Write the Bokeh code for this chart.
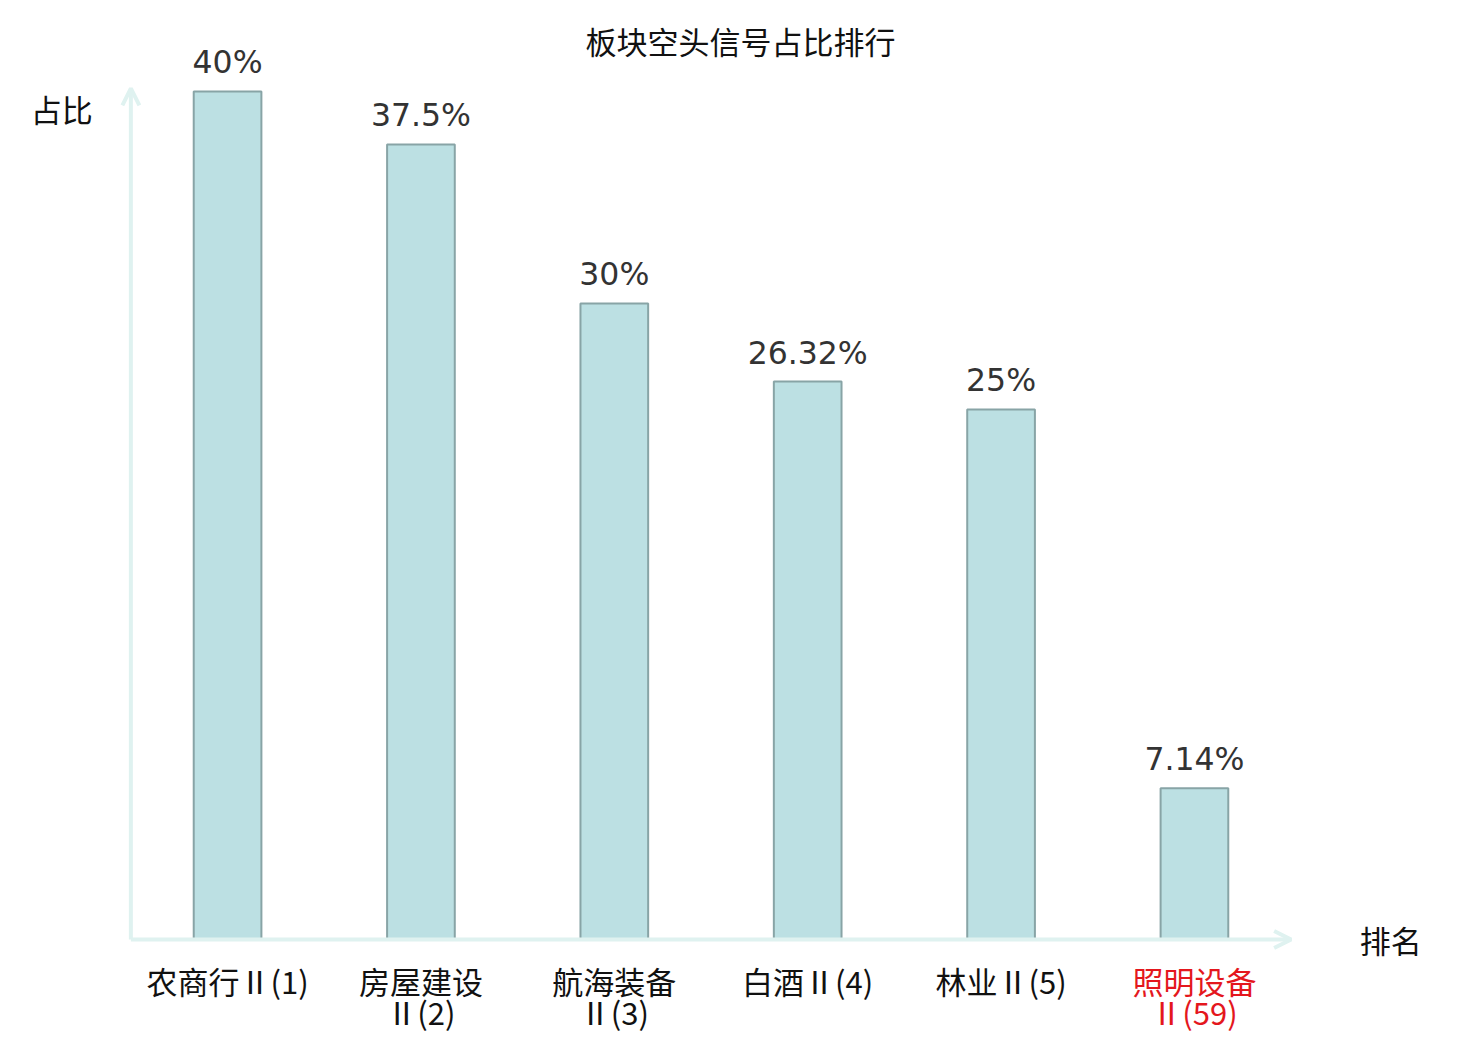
from bokeh.plotting import figure
from bokeh.models import ColumnDataSource, FactorRange, Range1d, Arrow, OpenHead, Label
from bokeh.core.properties import value
from bokeh.embed import file_html
from bokeh.resources import INLINE

# ---- data ----
title_text = "板块空头信号占比排行"
y_label = "占比"
x_label = "排名"
categories = ["农商行Ⅱ(1)", "房屋建设Ⅱ(2)", "航海装备Ⅱ(3)", "白酒Ⅱ(4)", "林业Ⅱ(5)", "照明设备Ⅱ(59)"]
ratios = [40, 37.5, 30, 26.32, 25, 7.14]
ratio_labels = ["40%", "37.5%", "30%", "26.32%", "25%", "7.14%"]
highlight = "照明设备Ⅱ(59)"

# ---- styles ----
BAR_FILL = "#bce0e3"
BAR_LINE = "#88a4a6"
AXIS_COLOR = "#dff2f0"
RED = "#e4171d"
CJK = "Noto Sans CJK SC"


def split_name(name):
    head, tail = name.split("Ⅱ", 1)
    if len(head) >= 4:
        return head, "Ⅱ" + tail
    return name, ""


line1 = [split_name(c)[0] for c in categories]
line2 = [split_name(c)[1] for c in categories]
colors = [RED if c == highlight else "#111111" for c in categories]

src = ColumnDataSource(dict(cat=categories, ratio=ratios, lab=ratio_labels,
                            l1=line1, l2=line2, col=colors,
                            zero=[0] * len(categories)))

p = figure(width=1472, height=1036, output_backend="svg", toolbar_location=None,
           x_range=FactorRange(factors=categories, range_padding=0.22473),
           y_range=Range1d(-4.575, 44.292),
           x_axis_location=None, y_axis_location=None,
           min_border_left=0, min_border_right=51, min_border_top=0, min_border_bottom=0)
p.outline_line_color = None
p.xgrid.visible = False
p.ygrid.visible = False
p.background_fill_color = "white"
p.border_fill_color = "white"

# axes with arrows
p.add_layout(Arrow(end=OpenHead(size=17, line_color=AXIS_COLOR, line_width=4),
                   x_start=0, y_start=0, x_end=len(categories), y_end=0,
                   line_color=AXIS_COLOR, line_width=4))
p.add_layout(Arrow(end=OpenHead(size=17, line_color=AXIS_COLOR, line_width=4),
                   x_start=0, y_start=0, x_end=0, y_end=40.15,
                   line_color=AXIS_COLOR, line_width=4))

p.vbar(x="cat", top="ratio", width=0.35, source=src,
       fill_color=BAR_FILL, line_color=BAR_LINE, line_width=2)

p.text(x="cat", y="ratio", text="lab", source=src, y_offset=-11,
       text_align="center", text_baseline="bottom",
       text_font=value("DejaVu Sans"), text_font_size="31.5px", text_color="#333333")

p.text(x="cat", y="zero", text="l1", source=src, y_offset=41,
       text_align="center", text_baseline="middle",
       text_font=value(CJK), text_font_size="31px", text_color="col")
p.text(x="cat", y="zero", text="l2", source=src, y_offset=72,
       text_align="center", text_baseline="middle",
       text_font=value(CJK), text_font_size="31px", text_color="col")

p.add_layout(Label(x=3.153, y=42.39, text=title_text, text_align="center",
                   text_baseline="middle", text_font=CJK, text_font_size="31px",
                   text_color="#111111"))
p.add_layout(Label(x=-0.357, y=39.2, text=y_label, text_align="center",
                   text_baseline="middle", text_font=CJK, text_font_size="31px",
                   text_color="#111111"))
p.add_layout(Label(x=6.515, y=0.0, text=x_label, text_align="center",
                   text_baseline="middle", text_font=CJK, text_font_size="31px",
                   text_color="#111111"))

open("out.html", "w").write(file_html(p, INLINE))
